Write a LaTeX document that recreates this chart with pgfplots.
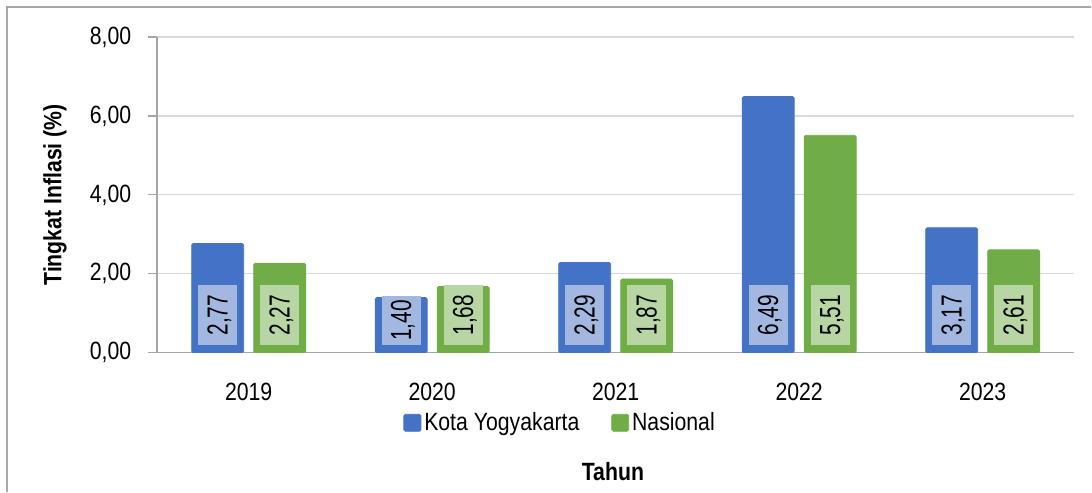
\documentclass[border=0pt]{standalone}
\usepackage{fontspec}
\setmainfont[FakeStretch=0.85]{Liberation Sans}
\newfontfamily\labelfont[FakeStretch=0.72]{Liberation Sans}
\usepackage{pgfplots}
\pgfplotsset{compat=1.18}
\definecolor{kblue}{HTML}{4472C4}
\definecolor{kgreen}{HTML}{70AD47}
\definecolor{axgray}{HTML}{A6A6A6}
\definecolor{gridgray}{HTML}{D9D9D9}
\pgfplotsset{
  vlabel/.style={draw=none, fill=none, forget plot, point meta=explicit,
    nodes near coords={\pgfmathprintnumber[fixed,fixed zerofill,precision=2,use comma,assume math mode=true]{\pgfplotspointmeta}},
    every node near coord/.append style={yshift=3.5pt, rotate=90, anchor=west,
      fill=#1!50!white, text height=10pt, text depth=0pt, inner xsep=5pt, inner ysep=4.75pt,
      font=\labelfont\fontsize{14.5}{16}\selectfont}},
}
\begin{document}
\begin{tikzpicture}
\begin{axis}[
  scale only axis, width=459pt, height=158pt,
  ybar, bar width=26pt,
  xmin=-0.5, xmax=4.5, ymin=0, ymax=8,
  xtick={0,1,2,3,4}, xticklabels={2019,2020,2021,2022,2023},
  ytick={0,2,4,6,8},
  axis x line*=bottom, axis y line*=left,
  axis line style={draw=axgray, line width=0.6pt, -},
  major x tick style={draw=none},
  ytick style={draw=axgray, line width=0.6pt},
  tick align=outside, major tick length=4.5pt,
  ymajorgrids, grid style={draw=gridgray, line width=0.6pt},
  /pgf/number format/assume math mode=true,
  yticklabel={\pgfmathprintnumber[fixed,fixed zerofill,precision=2,use comma,assume math mode=true]{\tick}},
  tick label style={font=\fontsize{12.5}{14}\selectfont},
  yticklabel style={xshift=-4.8pt},
  xticklabel style={yshift=-7.3pt},
  ylabel={Tingkat Inflasi (\%)},
  ylabel style={at={(axis description cs:-0.111,0.5)}, anchor=center, font=\bfseries\fontsize{12.5}{14}\selectfont},
  xlabel={Tahun},
  xlabel style={at={(axis description cs:0.497,-0.377)}, anchor=center, font=\bfseries\fontsize{12.5}{14}\selectfont},
  legend columns=2,
  legend style={at={(0.44,-0.2215)}, anchor=center, draw=none, fill=none,
    font=\fontsize{12.5}{14}\selectfont, nodes={inner xsep=1.5pt},
    /tikz/every even column/.append style={column sep=14.5pt}},
]
\addplot[fill=kblue, draw=kblue, line width=0.4pt, rounded corners=0.8pt, bar shift=-15.5pt,
  legend image code/.code={\fill[kblue] (0pt,-4.25pt) rectangle (8.5pt,4.25pt);}]
  coordinates {(0,2.77) (1,1.40) (2,2.29) (3,6.49) (4,3.17)};
\addplot[fill=kgreen, draw=kgreen, line width=0.4pt, rounded corners=0.8pt, bar shift=15.5pt,
  legend image code/.code={\fill[kgreen] (0pt,-4.25pt) rectangle (8.5pt,4.25pt);}]
  coordinates {(0,2.27) (1,1.68) (2,1.87) (3,5.51) (4,2.61)};
% value labels at the foot of each bar
\addplot[vlabel=kblue, bar shift=-15.5pt]
  coordinates {(0,0) [2.77] (2,0) [2.29] (3,0) [6.49] (4,0) [3.17]};
\addplot[vlabel=kblue, bar shift=-15.5pt,
  every node near coord/.append style={inner xsep=2.3pt}]
  coordinates {(1,0) [1.40]};
\addplot[vlabel=kgreen, bar shift=15.5pt]
  coordinates {(0,0) [2.27] (1,0) [1.68] (2,0) [1.87] (3,0) [5.51] (4,0) [2.61]};
\legend{Kota Yogyakarta, Nasional}
\end{axis}
\draw[axgray, line width=0.6pt] (-75pt,-69.5pt) -- (-75pt,173pt) -- (467.5pt,173pt);
\path[use as bounding box] (-78.5pt,-69.5pt) rectangle (467.5pt,176.5pt);
\end{tikzpicture}
\end{document}
